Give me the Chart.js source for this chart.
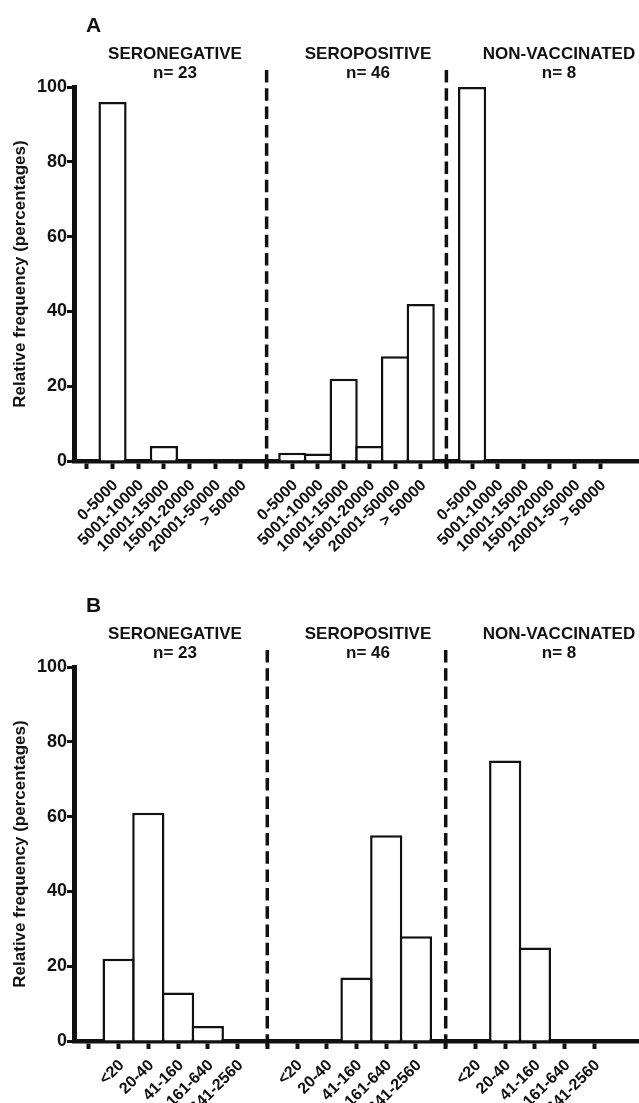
<!DOCTYPE html>
<html>
<head>
<meta charset="utf-8">
<script src="https://cdn.jsdelivr.net/npm/chart.js@4.4.0/dist/chart.umd.min.js"></script>
<style>
  html, body { margin: 0; padding: 0; background: #fff; overflow: hidden; }
  .panel { position: absolute; left: 0; width: 639px; height: 580px; }
  canvas { display: block; }
</style>
</head>
<body>
<div class="panel" style="top:0"><canvas id="chartA" width="639" height="580"></canvas></div>
<div class="panel" style="top:580px"><canvas id="chartB" width="639" height="580"></canvas></div>

<script>
// ---- data (relative frequency, %) ----
const groupNames = ['SERONEGATIVE', 'SEROPOSITIVE', 'NON-VACCINATED'];
const groupN = [23, 46, 8];
const yTicks = [0, 20, 40, 60, 80, 100];

// panel A: titer bins
const binsA = ['0-5000', '5001-10000', '10001-15000', '15001-20000', '20001-50000', '> 50000'];
const seronegA = [96, 0, 4, 0, 0, 0];
const seroposA = [2.2, 2.0, 22, 4, 28, 42];
const nonvacA = [100, 0, 0, 0, 0, 0];

// panel B: titer bins
const binsB = ['<20', '20-40', '41-160', '161-640', '641-2560'];
const seronegB = [22, 61, 13, 4, 0];
const seroposB = [0, 0, 17, 55, 28];
const nonvacB = [0, 75, 25, 0, 0];

const INK = '#111';
const FONT = '"Liberation Sans", Arial, sans-serif';

// titles + dashed group separators
const panelDecor = {
  id: 'panelDecor',
  afterDatasetsDraw(chart, args, opts) {
    const ctx = chart.ctx;
    const x = chart.scales.x;
    const area = chart.chartArea;
    ctx.save();
    // dashed separators between groups
    ctx.strokeStyle = INK;
    ctx.lineWidth = 3.5;
    ctx.setLineDash([12.5, 5.8]);
    opts.dividers.forEach(i => {
      const px = x.getPixelForValue(i);
      ctx.beginPath();
      ctx.moveTo(px, 70);
      ctx.lineTo(px, area.bottom + 8);
      ctx.stroke();
    });
    ctx.setLineDash([]);
    // panel letter
    ctx.fillStyle = INK;
    ctx.textBaseline = 'alphabetic';
    ctx.textAlign = 'left';
    ctx.font = 'bold 21px ' + FONT;
    ctx.fillText(opts.letter, 86, 32);
    // group headings
    ctx.textAlign = 'center';
    ctx.font = 'bold 17px ' + FONT;
    groupNames.forEach((name, k) => {
      ctx.fillText(name, opts.titleX[k], 59);
      ctx.fillText('n= ' + groupN[k], opts.titleX[k], 78);
    });
    ctx.restore();
  }
};

function makePanel(canvasId, letter, bins, groups) {
  // one empty slot, then each group followed by a separator slot
  const labels = [''];
  const values = [null];
  const dividers = [];
  groups.forEach((g, k) => {
    bins.forEach((b, i) => { labels.push(b); values.push(g[i]); });
    if (k < groups.length - 1) dividers.push(labels.length);
    labels.push('');
    values.push(null);
  });
  const lastIdx = labels.length - 1;
  const plotW = 639 - 74;
  const slot = plotW / labels.length;
  const border = 2.5;

  return new Chart(document.getElementById(canvasId), {
    type: 'bar',
    data: {
      labels: labels,
      datasets: [{
        data: values,
        backgroundColor: '#fff',
        borderColor: INK,
        borderWidth: border,
        categoryPercentage: 1,
        barPercentage: 1 + border / slot
      }]
    },
    options: {
      responsive: false,
      animation: false,
      devicePixelRatio: 1,
      layout: { padding: { top: 87, left: 0, right: 0, bottom: 0 } },
      plugins: {
        legend: { display: false },
        tooltip: { enabled: false },
        panelDecor: { letter: letter, dividers: dividers, titleX: [175, 368, 559] }
      },
      scales: {
        x: {
          type: 'category',
          offset: true,
          grid: {
            offset: false,
            drawOnChartArea: false,
            drawTicks: true,
            tickLength: 8,
            tickWidth: 4,
            tickColor: ctx => ctx.index === lastIdx ? 'rgba(0,0,0,0)' : INK
          },
          border: { display: true, width: 4.5, color: INK },
          ticks: {
            autoSkip: false,
            maxRotation: 45,
            minRotation: 45,
            padding: 7,
            labelOffset: 3,
            color: INK,
            font: { family: FONT, size: 16, weight: 'bold' }
          },
          afterFit: s => {
            s.height = 580 - 461;
            s.paddingLeft = 0;
            s.paddingRight = 0;
          }
        },
        y: {
          min: 0,
          max: 100,
          afterBuildTicks: s => { s.ticks = yTicks.map(v => ({ value: v })); },
          grid: {
            drawOnChartArea: false,
            drawTicks: true,
            tickLength: 7,
            tickWidth: 3,
            tickColor: INK
          },
          border: { display: true, width: 5, color: INK },
          ticks: {
            padding: 0,
            color: INK,
            font: { family: FONT, size: 18, weight: 'bold' }
          },
          title: {
            display: true,
            text: 'Relative frequency (percentages)',
            color: INK,
            font: { family: FONT, size: 17, weight: 'bold' },
            padding: { top: 10, bottom: 0 }
          },
          afterFit: s => {
            s.width = 74;
            s.paddingTop = 0;
            s.paddingBottom = 0;
          }
        }
      }
    },
    plugins: [panelDecor]
  });
}

makePanel('chartA', 'A', binsA, [seronegA, seroposA, nonvacA]);
makePanel('chartB', 'B', binsB, [seronegB, seroposB, nonvacB]);
</script>
</body>
</html>
